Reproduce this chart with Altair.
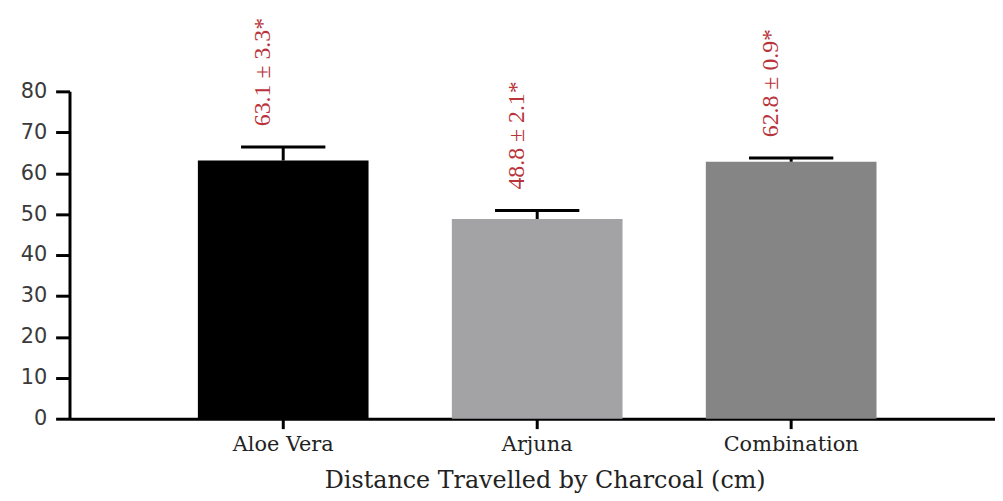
import altair as alt
import pandas as pd

categories = ["Aloe Vera", "Arjuna", "Combination"]
means = [63.1, 48.8, 62.8]
sds = [3.3, 2.1, 0.9]
labels = ["63.1 ± 3.3*", "48.8 ± 2.1*", "62.8 ± 0.9*"]
bar_colors = ["#000000", "#a3a3a6", "#858585"]

df = pd.DataFrame({"cat": categories, "mean": means, "sd": sds, "label": labels})
df["upper"] = df["mean"] + df["sd"]

xscale = alt.Scale(paddingInner=0.328, paddingOuter=0.486, align=0.52)
xenc = alt.X("cat:N", sort=categories, scale=xscale,
             axis=alt.Axis(title="Distance Travelled by Charcoal (cm)", labelAngle=0,
                           labelFont="DejaVu Serif", labelFontSize=21, labelColor="#222222",
                           titleFont="DejaVu Serif", titleFontSize=24, titleFontWeight="normal",
                           titleColor="#222222", titlePadding=14, titleX=479,
                           domainColor="#000000", domainWidth=3, tickColor="#000000",
                           tickWidth=3, tickSize=10, labelPadding=5, grid=False))

bars = alt.Chart(df).mark_bar().encode(
    x=xenc,
    y=alt.Y("mean:Q", scale=alt.Scale(domain=[0, 80]),
            axis=alt.Axis(title=None, values=list(range(0, 81, 10)), grid=False,
                          labelFont="DejaVu Sans", labelFontSize=21, labelColor="#3a3a3a",
                          domainColor="#000000", domainWidth=3, tickColor="#000000",
                          tickWidth=3, tickSize=14, labelPadding=9)),
    color=alt.Color("cat:N", sort=categories,
                    scale=alt.Scale(domain=categories, range=bar_colors), legend=None),
)

err = alt.Chart(df).mark_rule(color="#000000", strokeWidth=3, opacity=1).encode(
    x=alt.X("cat:N", sort=categories), y="mean:Q", y2="upper:Q")

cap = alt.Chart(df).mark_tick(color="#000000", thickness=3, size=85, opacity=1).encode(
    x=alt.X("cat:N", sort=categories), y="upper:Q")

txt = alt.Chart(df).mark_text(angle=270, align="left", baseline="middle",
                              font="Liberation Serif", fontSize=24, color="#b8333a",
                              dx=21, dy=-20).encode(
    x=alt.X("cat:N", sort=categories), y="upper:Q", text="label:N")

chart = alt.layer(bars, err, cap, txt).properties(
    width=933, height=330,
    autosize=alt.AutoSizeParams(type="none"),
    padding={"left": 62, "top": 82, "right": 0, "bottom": 90},
    background="#ffffff",
).configure_view(strokeWidth=0, stroke="transparent").configure_axis(grid=False)

chart.save("out.html", embed_options={"renderer": "svg", "actions": False})
